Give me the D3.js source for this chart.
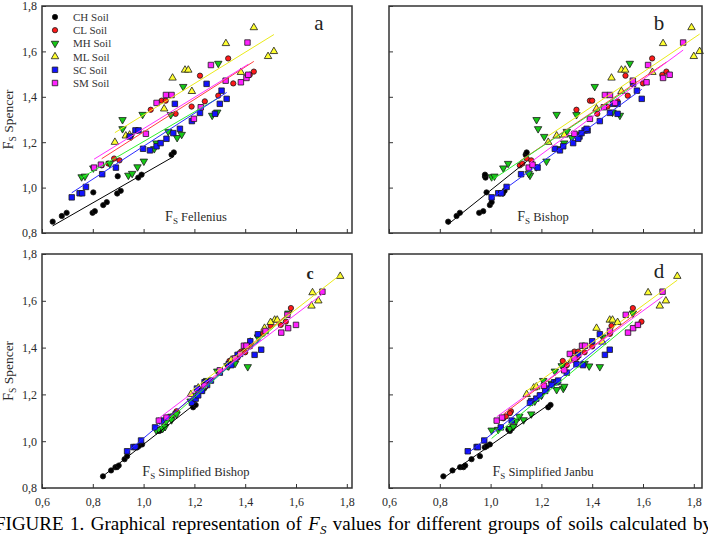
<!DOCTYPE html>
<html>
<head>
<meta charset="utf-8">
<script src="https://cdn.jsdelivr.net/npm/d3@7"></script>
<style>
  body { margin: 0; background: #fff; }
  svg { display: block; }
  svg text { font-family: "Liberation Serif", "Times New Roman", "DejaVu Serif", serif; }
</style>
</head>
<body>
<svg id="fig" width="708" height="539"></svg>
<script>
// soil groups
var soilNames = ['CH Soil', 'CL Soil', 'MH Soil', 'ML Soil', 'SC Soil', 'SM Soil']

// FS Spencer (y axis, same in all four panels)
var chSpencer = [0.850, 0.875, 0.889, 0.889, 0.896, 0.923, 0.936, 0.974, 0.986, 0.979, 1.050, 1.044, 1.057, 1.145, 1.155]
var clSpencer = [1.098, 1.106, 1.128, 1.120, 1.343, 1.383, 1.383, 1.325, 1.357, 1.380, 1.405, 1.459, 1.493, 1.497, 1.511, 1.569]
var mhSpencer = [1.047, 1.050, 1.086, 1.106, 1.054, 1.062, 1.091, 1.116, 1.299, 1.259, 1.322, 1.225, 1.196, 1.171, 1.247, 1.220, 1.234, 1.445, 1.321, 1.318, 1.332, 1.547]
var mlSpencer = [1.200, 1.228, 1.232, 1.347, 1.424, 1.483, 1.518, 1.518, 1.508, 1.635, 1.705, 1.600, 1.578]
var scSpencer = [0.957, 0.975, 0.975, 1.003, 1.059, 1.088, 1.225, 1.252, 1.252, 1.171, 1.164, 1.182, 1.196, 1.215, 1.240, 1.259, 1.369, 1.293, 1.329, 1.325, 1.457, 1.427, 1.369, 1.391]
var smSpencer = [1.088, 1.101, 1.237, 1.303, 1.373, 1.408, 1.408, 1.540, 1.354, 1.464, 1.483, 1.497, 1.471, 1.639]

// FS Fellenius (panel a)
var chFellenius = [0.642, 0.678, 0.697, 0.799, 0.808, 0.841, 0.855, 0.896, 0.910, 0.802, 0.898, 0.979, 0.992, 1.110, 1.119]
var clFellenius = [0.835, 0.861, 0.884, 0.905, 1.028, 1.071, 1.087, 1.126, 1.189, 1.241, 1.294, 1.353, 1.222, 1.418, 1.434, 1.333]
var mhFellenius = [0.756, 0.769, 0.802, 0.867, 0.940, 0.955, 0.976, 1.001, 0.917, 0.917, 0.996, 0.950, 1.051, 1.042, 1.097, 1.132, 1.150, 1.156, 1.107, 1.270, 1.290, 1.294]
var mlFellenius = [0.887, 0.930, 0.945, 1.081, 1.190, 1.114, 1.163, 1.176, 1.383, 1.324, 1.434, 1.513, 1.490]
var scFellenius = [0.717, 0.748, 0.758, 0.773, 0.837, 0.891, 0.946, 0.968, 0.980, 0.998, 1.025, 1.051, 1.067, 1.090, 1.117, 1.143, 1.123, 1.190, 1.222, 1.281, 1.248, 1.307, 1.300, 1.327]
var smFellenius = [0.805, 0.832, 1.009, 1.198, 1.051, 1.088, 1.110, 1.265, 1.225, 1.383, 1.405, 1.412, 1.323, 1.409]

// FS Bishop (panel b)
var chBishop = [0.833, 0.866, 0.879, 0.955, 0.971, 0.997, 1.004, 1.048, 1.055, 0.984, 0.978, 0.980, 0.978, 1.138, 1.142]
var clBishop = [1.115, 1.125, 1.142, 1.160, 1.338, 1.391, 1.400, 1.420, 1.460, 1.500, 1.540, 1.600, 1.531, 1.676, 1.692, 1.636]
var mhBishop = [1.004, 1.015, 1.050, 1.069, 1.155, 1.150, 1.180, 1.220, 1.181, 1.187, 1.260, 1.211, 1.290, 1.270, 1.300, 1.320, 1.340, 1.410, 1.338, 1.509, 1.480, 1.548]
var mlBishop = [1.227, 1.260, 1.290, 1.417, 1.515, 1.476, 1.515, 1.530, 1.637, 1.679, 1.791, 1.823, 1.800]
var scBishop = [1.004, 1.030, 1.042, 1.063, 1.120, 1.185, 1.350, 1.370, 1.382, 1.253, 1.273, 1.286, 1.325, 1.345, 1.358, 1.378, 1.482, 1.430, 1.470, 1.500, 1.561, 1.576, 1.500, 1.595]
var smBishop = [1.150, 1.165, 1.330, 1.391, 1.490, 1.450, 1.470, 1.620, 1.446, 1.614, 1.679, 1.705, 1.560, 1.758]

// FS Simplified Bishop (panel c)
var chSimpBishop = [0.840, 0.872, 0.889, 0.895, 0.902, 0.925, 0.935, 0.975, 0.994, 0.981, 1.070, 1.062, 1.078, 1.195, 1.205]
var clSimpBishop = [1.100, 1.110, 1.130, 1.125, 1.338, 1.384, 1.395, 1.335, 1.370, 1.400, 1.420, 1.470, 1.500, 1.540, 1.560, 1.580]
var mhSimpBishop = [1.050, 1.060, 1.090, 1.110, 1.075, 1.085, 1.110, 1.130, 1.290, 1.250, 1.330, 1.225, 1.205, 1.185, 1.250, 1.235, 1.245, 1.450, 1.335, 1.410, 1.360, 1.570]
var mlSimpBishop = [1.186, 1.215, 1.235, 1.345, 1.420, 1.476, 1.516, 1.526, 1.500, 1.665, 1.774, 1.688, 1.661]
var scSimpBishop = [0.935, 0.960, 0.968, 0.990, 1.045, 1.070, 1.210, 1.240, 1.245, 1.195, 1.190, 1.205, 1.215, 1.230, 1.250, 1.265, 1.370, 1.300, 1.335, 1.345, 1.450, 1.420, 1.437, 1.463]
var smSimpBishop = [1.060, 1.090, 1.240, 1.300, 1.380, 1.395, 1.405, 1.566, 1.360, 1.542, 1.569, 1.600, 1.480, 1.704]

// FS Simplified Janbu (panel d)
var chJanbu = [0.814, 0.850, 0.880, 0.893, 0.900, 0.925, 0.958, 0.977, 0.997, 0.985, 1.070, 1.076, 1.082, 1.227, 1.236]
var clJanbu = [1.050, 1.060, 1.080, 1.076, 1.284, 1.330, 1.345, 1.300, 1.340, 1.370, 1.400, 1.470, 1.476, 1.580, 1.594, 1.560]
var mhJanbu = [1.004, 1.030, 1.100, 1.113, 1.076, 1.090, 1.130, 1.160, 1.253, 1.207, 1.280, 1.286, 1.200, 1.174, 1.240, 1.260, 1.290, 1.441, 1.388, 1.430, 1.370, 1.560]
var mlJanbu = [1.142, 1.170, 1.180, 1.320, 1.440, 1.417, 1.469, 1.480, 1.500, 1.620, 1.735, 1.690, 1.666]
var scJanbu = [0.910, 0.945, 0.950, 0.975, 1.040, 1.083, 1.220, 1.250, 1.260, 1.160, 1.155, 1.180, 1.194, 1.215, 1.240, 1.266, 1.345, 1.300, 1.338, 1.364, 1.430, 1.400, 1.450, 1.469]
var smJanbu = [1.024, 1.045, 1.210, 1.290, 1.312, 1.360, 1.372, 1.532, 1.330, 1.541, 1.561, 1.580, 1.470, 1.677]

var xTicks = [0.6, 0.8, 1.0, 1.2, 1.4, 1.6, 1.8]
var yTicks = [0.8, 1.0, 1.2, 1.4, 1.6, 1.8]

var captionWords = ['FIGURE', '1.', 'Graphical', 'representation', 'of', 'FS', 'values', 'for', 'different', 'groups', 'of', 'soils', 'calculated', 'by']

// styling per soil
var soilFill = ['#000000', '#ff1a1a', '#16c816', '#ffff30', '#1212ff', '#ff22ff']
var soilLine = ['#000000', '#ff4040', '#30f030', '#eaea1a', '#2a2aff', '#ff30ff']
var soilShape = ['circle', 'circle', 'down', 'up', 'square', 'square']

var spencer = [chSpencer, clSpencer, mhSpencer, mlSpencer, scSpencer, smSpencer]

var panels = [
  { letter: 'a', method: 'Fellenius', xs: [chFellenius, clFellenius, mhFellenius, mlFellenius, scFellenius, smFellenius], col: 0, row: 0, letterDx: 277 },
  { letter: 'b', method: 'Bishop', xs: [chBishop, clBishop, mhBishop, mlBishop, scBishop, smBishop], col: 1, row: 0, letterDx: 270 },
  { letter: 'c', method: 'Simplified Bishop', xs: [chSimpBishop, clSimpBishop, mhSimpBishop, mlSimpBishop, scSimpBishop, smSimpBishop], col: 0, row: 1, letterDx: 268 },
  { letter: 'd', method: 'Simplified Janbu', xs: [chJanbu, clJanbu, mhJanbu, mlJanbu, scJanbu, smJanbu], col: 1, row: 1, letterDx: 270 }
]

var cols = [{ left: 42, width: 310 }, { left: 389, width: 313 }]
var rows = [{ top: 6, height: 227 }, { top: 254, height: 234 }]
var pxPerUnit = 254
var serif = '"Liberation Serif", "Times New Roman", "DejaVu Serif", serif'

var svg = d3.select('#fig')
var comma = function (d) { return d3.format('.1f')(d).replace('.', ',') }

function symbolPath(shape) {
  if (shape === 'circle') return d3.symbol().type(d3.symbolCircle).size(22)()
  if (shape === 'square') return d3.symbol().type(d3.symbolSquare).size(30)()
  return d3.symbol().type(d3.symbolTriangle).size(24)()
}

function fitLine(xs, ys) {
  var mx = d3.mean(xs)
  var my = d3.mean(ys)
  var sxy = d3.sum(xs, function (x, i) { return (x - mx) * (ys[i] - my) })
  var sxx = d3.sum(xs, function (x) { return (x - mx) * (x - mx) })
  var b = sxy / sxx
  var x0 = d3.min(xs)
  var x1 = d3.max(xs)
  return [[x0, my + b * (x0 - mx)], [x1, my + b * (x1 - mx)]]
}

function drawMarker(g, shape, fill) {
  return g.append('path')
    .attr('d', symbolPath(shape))
    .attr('fill', fill)
    .attr('stroke', '#1a1a1a')
    .attr('stroke-width', 0.8)
}

panels.forEach(function (p) {
  var c = cols[p.col]
  var r = rows[p.row]
  var w = c.width
  var h = r.height

  var x = d3.scaleLinear().domain([0.6, 0.6 + w / pxPerUnit]).range([0, w])
  var y = d3.scaleLinear().domain([0.8, 1.8]).range([h, 0])

  var g = svg.append('g')
    .attr('transform', 'translate(' + c.left + ',' + r.top + ')')

  // axes, ticks pointing inward
  var gx = g.append('g')
    .attr('transform', 'translate(0,' + h + ')')
    .call(d3.axisBottom(x).tickValues(xTicks).tickSizeInner(-4).tickSizeOuter(0).tickPadding(9).tickFormat(comma))
  var gy = g.append('g')
    .call(d3.axisLeft(y).tickValues(yTicks).tickSizeInner(-4).tickSizeOuter(0).tickPadding(5).tickFormat(comma))

  ;[gx, gy].forEach(function (ax) {
    ax.attr('font-family', serif).attr('font-size', 12)
    ax.select('.domain').remove()
    ax.selectAll('line').attr('stroke', '#333')
    ax.selectAll('text').attr('fill', '#2a2a2a')
  })
  if (p.row === 0) gx.selectAll('text').remove()
  if (p.col === 1) gy.selectAll('text').remove()

  // points
  spencer.forEach(function (ys, s) {
    var xs = p.xs[s]
    g.append('g').selectAll('path')
      .data(xs.map(function (v, i) { return [v, ys[i]] }))
      .enter().append('path')
        .attr('d', symbolPath(soilShape[s]))
        .attr('transform', function (d) {
          return 'translate(' + x(d[0]) + ',' + y(d[1]) + ')' + (soilShape[s] === 'down' ? ' rotate(180)' : '')
        })
        .attr('fill', soilFill[s])
        .attr('stroke', '#1a1a1a')
        .attr('stroke-width', 0.8)
  })

  // least squares lines
  var line = d3.line().x(function (d) { return x(d[0]) }).y(function (d) { return y(d[1]) })
  spencer.forEach(function (ys, s) {
    g.append('path')
      .attr('d', line(fitLine(p.xs[s], ys)))
      .attr('fill', 'none')
      .attr('stroke', soilLine[s])
      .attr('stroke-width', 1)
  })

  // frame
  g.append('rect')
    .attr('width', w)
    .attr('height', h)
    .attr('fill', 'none')
    .attr('stroke', '#333')
    .attr('stroke-width', 1.5)

  // axis title inside the plot
  var t = g.append('text')
    .attr('x', 154)
    .attr('y', h - 12)
    .attr('text-anchor', 'middle')
    .attr('fill', '#2a2a2a')
    .attr('font-family', serif)
    .style('font-size', '12.5px')
  t.append('tspan').style('font-size', '14px').text('F')
  t.append('tspan').attr('dy', 3).style('font-size', '9px').text('S')
  t.append('tspan').attr('dy', -3).text(' ' + p.method)

  g.append('text')
    .attr('x', p.letterDx)
    .attr('y', p.letter === 'c' ? 25 : 24)
    .attr('text-anchor', 'middle')
    .attr('fill', '#222')
    .attr('font-family', serif)
    .style('font-size', p.letter === 'c' ? '16px' : '21px')
    .style('font-weight', p.letter === 'c' ? 'bold' : 'normal')
    .text(p.letter)

  if (p.letter === 'a') {
    soilNames.forEach(function (name, s) {
      var ly = 11 + s * 13.2
      drawMarker(g, soilShape[s], soilFill[s])
        .attr('transform', 'translate(13,' + ly + ')' + (soilShape[s] === 'down' ? ' rotate(180)' : ''))
      g.append('text')
        .attr('x', 31)
        .attr('y', ly + 4)
        .attr('fill', '#333')
        .attr('font-family', serif)
        .style('font-size', '11px')
        .text(name)
    })
  }
})

// y axis titles
rows.forEach(function (r) {
  var t = svg.append('text')
    .attr('transform', 'translate(13,' + (r.top + r.height / 2) + ') rotate(-90)')
    .attr('text-anchor', 'middle')
    .attr('fill', '#2a2a2a')
    .attr('font-family', serif)
    .style('font-size', '13.5px')
  t.append('tspan').style('font-size', '14.5px').text('F')
  t.append('tspan').attr('dy', 3).style('font-size', '9.5px').text('S')
  t.append('tspan').attr('dy', -3).text(' Spencer')
})

// caption, justified across the full width
var capLeft = -5
var capRight = 712
var capY = 530
var cap = svg.append('g').attr('font-family', serif).style('font-size', '19px').attr('fill', '#000')
var wordNodes = captionWords.map(function (word) {
  var t = cap.append('text').attr('y', capY)
  if (word === 'FS') {
    t.append('tspan').style('font-style', 'italic').text('F')
    t.append('tspan').attr('dy', 4).style('font-style', 'italic').style('font-size', '13px').text('S')
  } else {
    t.text(word)
  }
  return t
})
var widths = wordNodes.map(function (t) { return t.node().getComputedTextLength() })
var gap = (capRight - capLeft - d3.sum(widths)) / (widths.length - 1)
var cx = capLeft
wordNodes.forEach(function (t, i) {
  t.attr('x', cx)
  cx += widths[i] + gap
})
</script>
</body>
</html>
